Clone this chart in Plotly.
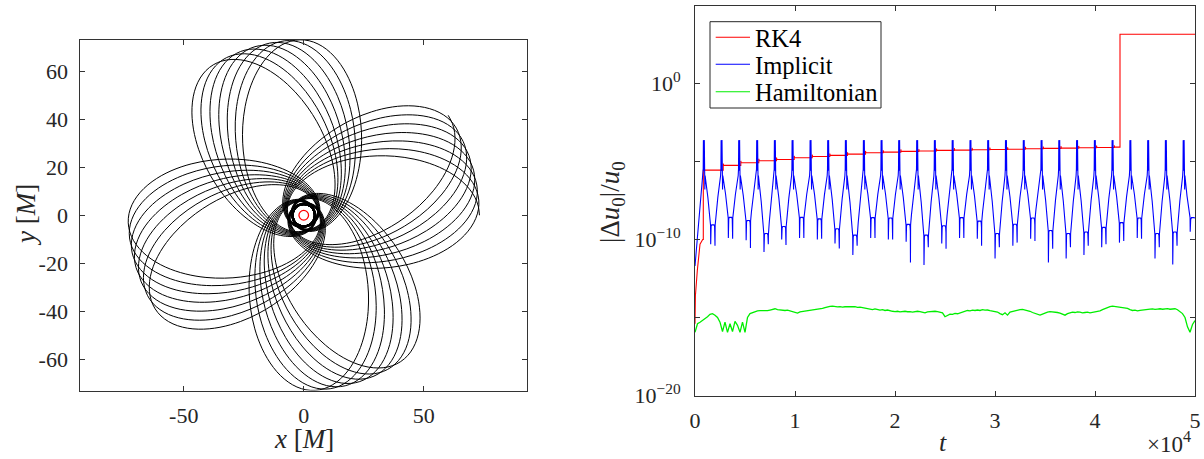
import numpy as np
import plotly.graph_objects as go

# ---------------- left panel: orbit (one half-orbit profile) ----------------
orbit_offset_deg = [0, 3, 6, 9, 12, 15, 18, 21, 24, 27, 30, 33, 36, 39, 42, 45, 48, 51, 54, 57, 60,
                    64, 68, 72, 76, 80, 84, 88, 92, 96, 100, 104, 108, 112, 116, 120,
                    126, 135, 144, 153, 162, 171, 180, 189, 198, 207, 216, 225, 234, 243, 252,
                    261, 270, 279, 288, 297, 306, 315, 324, 333, 342, 351, 360, 369, 378, 387, 396, 405.62]
orbit_radius = [73.200, 72.817, 71.692, 69.896, 67.533, 64.729, 61.615, 58.317, 54.942, 51.582, 48.305,
                45.160, 42.180, 39.382, 36.776, 34.362, 32.134, 30.085, 28.204, 26.478, 24.897,
                22.994, 21.299, 19.789, 18.441, 17.235, 16.156, 15.186, 14.314, 13.527, 12.815, 12.171,
                11.586, 11.054, 10.568, 10.125,
                9.529, 8.766, 8.132, 7.601, 7.152, 6.771, 6.446, 6.166, 5.925, 5.717, 5.536, 5.378,
                5.241, 5.120, 5.015, 4.922, 4.841, 4.769, 4.707, 4.652, 4.604, 4.562, 4.526, 4.495,
                4.468, 4.446, 4.428, 4.413, 4.401, 4.393, 4.388, 4.387]
# direction of each apoapsis passage (degrees)
apoapsis_angle_deg = [0, 91.24, 182.48, 273.72, 4.96, 96.2, 187.44, 278.68, 9.92, 101.16, 192.4,
                      283.64, 14.88, 106.12, 197.36, 288.6, 19.84, 111.08, 202.32, 293.56, 24.8,
                      116.04, 207.28, 298.52, 29.76, 121.0, 212.24, 303.48, 34.72]
horizon_radius = 2.0

# ---------------- right panel: |Δu0|/u0 (log10 values) ----------------
spike_t = [900, 2670, 4430, 6230, 8000, 9770, 11570, 13330, 15100, 16900, 18670, 20430, 22230,
           24000, 25780, 27560, 29330, 31110, 32890, 34670, 36440, 38220, 40000, 41770, 43550,
           45330, 47100, 48880]
spike_dt = [-110, -80, -60, -45, -30, -15, 0, 15, 30, 45, 60, 85, 110]
spike_lv = [-5.9, -5.5, -3.63, -5.6, -3.63, -5.4, -3.63, -5.6, -3.63, -5.5, -3.63, -6.8, -5.9]
valley_arch = [-9.04, -8.56, -8.76, -9.6, -9.15, -8.56, -8.66, -9.29, -9.7, -8.58, -8.6, -9.01, -9.7,
               -9.1, -8.58, -8.8, -9.6, -9.0, -8.6, -9.4, -9.6, -9.5, -9.2, -8.9, -8.6, -9.6, -9.5]
valley_dip_left = [-10.3, -9.9, -10.05, -10.8, -10.0, -9.9, -10.0, -10.25, -11.0, -9.9, -10.0, -10.15,
                   -11.64, -10.25, -9.9, -9.95, -11.21, -10.4, -9.95, -11.47, -11.21, -11.0, -10.5,
                   -10.2, -9.9, -11.21, -11.6]
valley_dip_right = [-10.4, -9.95, -10.55, -10.3, -10.35, -9.9, -9.95, -10.57, -10.4, -9.9, -10.0, -11.47,
                    -10.5, -10.6, -9.9, -10.4, -10.5, -10.2, -10.1, -10.6, -10.5, -10.4, -10.3, -10.1,
                    -9.95, -10.5, -10.4]
implicit_start_t = [0, 250, 500]
implicit_start_lv = [-11.7, -9.9, -8.1]
implicit_end_t = [49200, 49420, 49505, 49520, 49535, 49570, 49650, 49768, 49900, 50000]
implicit_end_lv = [-7.2, -8.3, -8.6, -9.5, -9.05, -8.72, -8.6, -8.58, -8.6, -8.62]

rk4_start_t = [0, 40, 230, 500, 770, 800]
rk4_start_lv = [-15.4, -13.6, -12.0, -10.3, -10.0, -10.0]
rk4_step_t = [830, 2820, 4580, 6380, 8150, 9920, 11720, 13480, 15250, 17050, 18820, 20580, 22380,
              24150, 25930, 27710, 29480, 31260, 33040, 34820, 36590, 38370, 40150, 41920, 42500]
rk4_step_lv = [-5.55, -5.25, -5.08, -4.95, -4.87, -4.76, -4.68, -4.61, -4.53, -4.44, -4.40, -4.35, -4.33,
               -4.29, -4.27, -4.25, -4.23, -4.21, -4.18, -4.16, -4.14, -4.12, -4.10, -4.08, 3.16]
rk4_step_bump = 0.12   # small overshoot seen at each step

ham_lv = [-15.95, -15.4, -15.3, -15.2, -15.05, -14.95, -14.8, -14.75, -14.85, -15.0,
          -15.3, -15.9, -15.3, -15.95, -15.4, -15.9, -15.25, -15.5, -15.95, -15.3,
          -15.95, -15.0, -14.75, -14.68, -14.62, -14.58, -14.56, -14.57, -14.54, -14.56,
          -14.52, -14.5, -14.44, -14.5, -14.52, -14.5, -14.55, -14.53, -14.58, -14.6,
          -14.65, -14.72, -14.64, -14.62, -14.6, -14.58, -14.55, -14.53, -14.52, -14.5,
          -14.48, -14.42, -14.36, -14.3, -14.28, -14.27, -14.3, -14.32, -14.3, -14.33,
          -14.31, -14.3, -14.33, -14.32, -14.3, -14.35, -14.33, -14.36, -14.4, -14.42,
          -14.46, -14.5, -14.45, -14.5, -14.53, -14.5, -14.55, -14.52, -14.58, -14.6,
          -14.62, -14.6, -14.64, -14.62, -14.6, -14.63, -14.62, -14.66, -14.63, -14.6,
          -14.62, -14.66, -14.7, -14.64, -14.62, -14.64, -14.6, -14.63, -14.66, -14.7,
          -14.95, -14.85, -14.78, -14.8, -14.74, -14.76, -14.7, -14.62, -14.58, -14.55,
          -14.57, -14.53, -14.55, -14.52, -14.55, -14.5, -14.53, -14.52, -14.56, -14.6,
          -14.62, -14.65, -14.75, -14.82, -14.7, -14.85, -14.65, -14.6, -14.55, -14.52,
          -14.5, -14.48, -14.52, -14.55, -14.6, -14.68, -14.75, -14.8, -14.85, -14.78,
          -14.7, -14.66, -14.62, -14.63, -14.65, -14.68, -14.72, -14.76, -14.85, -14.75,
          -14.7, -14.66, -14.68, -14.64, -14.66, -14.7, -14.68, -14.66, -14.7, -14.67,
          -14.65, -14.62, -14.58, -14.5, -14.42, -14.34, -14.3, -14.27, -14.3, -14.33,
          -14.32, -14.36, -14.38, -14.42, -14.5, -14.55, -14.53, -14.58, -14.55, -14.52,
          -14.5, -14.48, -14.46, -14.45, -14.48, -14.46, -14.44, -14.47, -14.45, -14.43,
          -14.47, -14.45, -14.44, -14.5, -14.6, -14.75, -15.0, -15.6, -15.95, -15.45, -15.2]
ham_t = np.linspace(0, 50000, len(ham_lv))

series_names = ["RK4", "Implicit", "Hamiltonian"]
series_colors = ["#ff0000", "#0000ff", "#00ee00"]

# ---------------- build orbit ----------------
off = np.deg2rad(orbit_offset_deg)
rr = np.array(orbit_radius)
ox, oy = [], []
for k in range(len(apoapsis_angle_deg) - 1):
    a0 = np.deg2rad(apoapsis_angle_deg[k])
    a1 = np.deg2rad(apoapsis_angle_deg[k + 1])
    ang = np.concatenate([a0 + off, (a1 - off[::-1])[1:]])
    rad = np.concatenate([rr, rr[::-1][1:]])
    if k > 0:
        ang, rad = ang[1:], rad[1:]
    ox.extend(rad * np.cos(ang))
    oy.extend(rad * np.sin(ang))

# ---------------- build implicit curve ----------------
bt, bl = list(implicit_start_t), list(implicit_start_lv)
w = 215
for k, tk in enumerate(spike_t):
    bt += [tk + d for d in spike_dt]
    bl += list(spike_lv)
    if k < len(spike_t) - 1:
        tn = spike_t[k + 1]
        A, D1, D2 = valley_arch[k], valley_dip_left[k], valley_dip_right[k]
        ts, te, M = tk + 110, tn - 110, 0.5 * (tk + tn)
        L0 = spike_lv[-1]
        L, R = M - w, M + w
        bt += [ts + 0.5 * (L - ts), ts + 0.82 * (L - ts), L - 15, L, L + 12, L + 40, L + 100, M,
               R - 100, R - 40, R - 12, R, R + 15, te - 0.82 * (te - R), te - 0.5 * (te - R)]
        bl += [L0 + 0.45 * (A - L0), L0 + 0.8 * (A - L0), A - 0.05, D1, A - 0.45, A - 0.12, A - 0.02, A,
               A - 0.02, A - 0.12, A - 0.45, D2, A - 0.05, L0 + 0.8 * (A - L0), L0 + 0.45 * (A - L0)]
bt += implicit_end_t
bl += implicit_end_lv

# ---------------- build RK4 staircase ----------------
rt, rl = list(rk4_start_t), list(rk4_start_lv)
for i, (ts_, lv) in enumerate(zip(rk4_step_t, rk4_step_lv)):
    prev = rl[-1]
    if 0 < i < len(rk4_step_t) - 1:
        rt += [ts_, ts_, ts_ + 40]
        rl += [prev, lv + rk4_step_bump, lv]
    else:
        rt += [ts_, ts_]
        rl += [prev, lv]
rt.append(50000)
rl.append(rl[-1])

fig = go.Figure()
fig.add_trace(go.Scatter(x=ox, y=oy, mode="lines", line=dict(color="black", width=1, shape="spline"),
                         showlegend=False, xaxis="x", yaxis="y", hoverinfo="skip"))
widths = [1.1, 1.1, 1.3]
for (tx, ly), nm, col, lw in zip([(rt, rl), (bt, bl), (ham_t, ham_lv)], series_names, series_colors, widths):
    fig.add_trace(go.Scatter(x=tx, y=10.0 ** np.array(ly), mode="lines", name=nm, showlegend=False,
                             line=dict(color=col, width=lw), xaxis="x2", yaxis="y2"))

W, Hh = 1204, 459
tickfont = dict(family="Liberation Serif", size=22, color="#262626")
axcommon = dict(showline=True, linecolor="#333333", linewidth=1, mirror="ticks", ticks="inside",
                ticklen=5, tickcolor="#333333", showgrid=False, zeroline=False, tickfont=tickfont,
                automargin=False)

fig.update_layout(
    template="none",
    width=W, height=Hh, margin=dict(l=0, r=0, t=0, b=0, pad=0),
    paper_bgcolor="white", plot_bgcolor="white", showlegend=False,
    font=dict(family="Liberation Serif", color="#262626"),
    xaxis=dict(domain=[80.3 / W, 527.2 / W], range=[-93.1, 93.1], tickvals=[-50, 0, 50],
               ticktext=["-50", "0", "50"], anchor="y", ticklabelstandoff=5, **axcommon),
    yaxis=dict(domain=[1 - 390.5 / Hh, 1 - 40 / Hh], range=[-73.1, 73.1],
               tickvals=[-60, -40, -20, 0, 20, 40, 60],
               ticktext=["-60", "-40", "-20", "0", "20", "40", "60"], anchor="x", ticklabelstandoff=7, **axcommon),
    xaxis2=dict(domain=[695 / W, 1195 / W], range=[0, 50000], tickvals=[0, 10000, 20000, 30000, 40000, 50000],
                ticktext=["0", "1", "2", "3", "4", "5"], anchor="y2", ticklabelstandoff=5, **axcommon),
    yaxis2=dict(domain=[1 - 395.5 / Hh, 1 - 5.5 / Hh], type="log", range=[-20, 5],
                tickvals=[1e-20, 1e-10, 1e0],
                ticktext=["10<sup>\u221220</sup>", "10<sup>\u221210</sup>", "10<sup>0</sup>"],
                minor=dict(tickvals=[1e-15, 1e-5, 1e5], ticks="inside", ticklen=5, tickcolor="#333333",
                           showgrid=False),
                anchor="x2", ticklabelstandoff=9, **axcommon),
)

shapes = [dict(type="circle", xref="x", yref="y", x0=-horizon_radius, x1=horizon_radius,
               y0=-horizon_radius, y1=horizon_radius, line=dict(color="red", width=1.3))]
# legend box drawn in the right panel
lg_x0, lg_x1, lg_y0, lg_y1 = 710, 881, 21.7, 108
row_y = [37.3, 64.3, 91.7]
shapes.append(dict(type="rect", xref="paper", yref="paper", x0=lg_x0 / W, x1=lg_x1 / W,
                   y0=1 - lg_y1 / Hh, y1=1 - lg_y0 / Hh, line=dict(color="#262626", width=1),
                   fillcolor="white", layer="above"))
for ry, col in zip(row_y, series_colors):
    shapes.append(dict(type="line", xref="paper", yref="paper", x0=715.7 / W, x1=750 / W,
                       y0=1 - ry / Hh, y1=1 - ry / Hh, line=dict(color=col, width=1.1), layer="above"))
fig.update_layout(shapes=shapes)

for ry, nm in zip(row_y, series_names):
    fig.add_annotation(xref="paper", yref="paper", x=753 / W, y=1 - (ry + 1) / Hh, text=nm, showarrow=False,
                       xanchor="left", yanchor="middle",
                       font=dict(family="Liberation Serif", size=24.5, color="black"))

titlefont = dict(family="Liberation Serif", size=27, color="#262626")
ann = [
    dict(x=303.8 / W, y=1 - 439 / Hh, text="<i>x</i> [<i>M</i>]", xanchor="center", yanchor="middle"),
    dict(x=26 / W, y=1 - 215 / Hh, text="<i>y</i> [<i>M</i>]", textangle=-90, xanchor="center", yanchor="middle"),
    dict(x=943 / W, y=0, text="<i>t</i>", xanchor="center", yanchor="bottom", font=dict(size=26)),
    dict(x=612 / W, y=1 - 202 / Hh, text="|\u0394<i>u</i><sub>0</sub>|/<i>u</i><sub>0</sub>", textangle=-90,
         xanchor="center", yanchor="middle"),
    dict(x=1193 / W, y=0, text="\u00d710<sup>4</sup>", xanchor="right", yanchor="bottom", font=dict(size=23)),
]
for a in ann:
    f = dict(titlefont)
    f.update(a.pop("font", {}))
    fig.add_annotation(xref="paper", yref="paper", showarrow=False, font=f, **a)

fig.write_html("out.html", config={"displayModeBar": False},
               post_script="document.body.style.margin='0px';document.body.style.overflow='hidden';")
